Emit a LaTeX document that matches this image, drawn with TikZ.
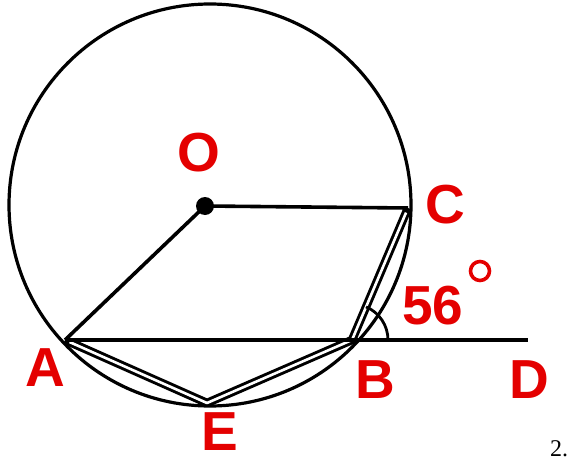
\documentclass[tikz,border=0pt]{standalone}
\usetikzlibrary{calc}
\usepackage{fontspec}
\setmainfont{Liberation Sans}
\newfontfamily\serifnum{Liberation Serif}
\definecolor{lblred}{RGB}{228,0,0}
\begin{document}
\begin{tikzpicture}[x=1pt,y=-1pt,
  lbl/.style={text=lblred,font=\fontsize{55}{55}\selectfont\bfseries,inner sep=0pt},
  thin line/.style={line width=3.6pt,black}]
\useasboundingbox (0,0) rectangle (573,463);
\coordinate (ctr) at (210,205);
\draw[line width=3.2pt] (ctr) circle[radius=201];
\coordinate (O) at (205,206);
\coordinate (C) at (408,208);
\coordinate (A) at (65,340);
\coordinate (B) at (352,340);
\coordinate (D) at (528,340);
\coordinate (E) at (207,403);
\draw[line width=8.5pt,line join=round] (A) -- (E) -- (B) -- (C);
\draw[line width=2.6pt,white,line join=round,shorten <=5pt,shorten >=5pt] (A) -- (E) -- (B) -- (C);
\draw[thin line] (O) -- (C);
\draw[thin line] (O) -- (A);
\draw[line width=4.2pt] (A) -- (D);
\fill (O) circle[radius=9];
\draw[line width=2.8pt] ($(B)+(36,0)$) arc[start angle=0,end angle=-67,radius=36];
\node[lbl] (lO) at (199,153) {O};
\node[lbl] (lC) at (445,205) {C};
\node[lbl] (lA) at (45,368) {A};
\node[lbl] (lB) at (375,380) {B};
\node[lbl] (lD) at (529,380) {D};
\node[lbl] (lE) at (220,432) {E};
\node[lbl] (l56) at (433,306) {56};
\draw[lblred,line width=3.6pt] (480,271) circle[radius=9.5] node (deg) {};
\node[anchor=base west,inner sep=0pt,font=\serifnum\fontsize{24}{24}\selectfont] (num) at (550,456) {2.};
\end{tikzpicture}
\end{document}
